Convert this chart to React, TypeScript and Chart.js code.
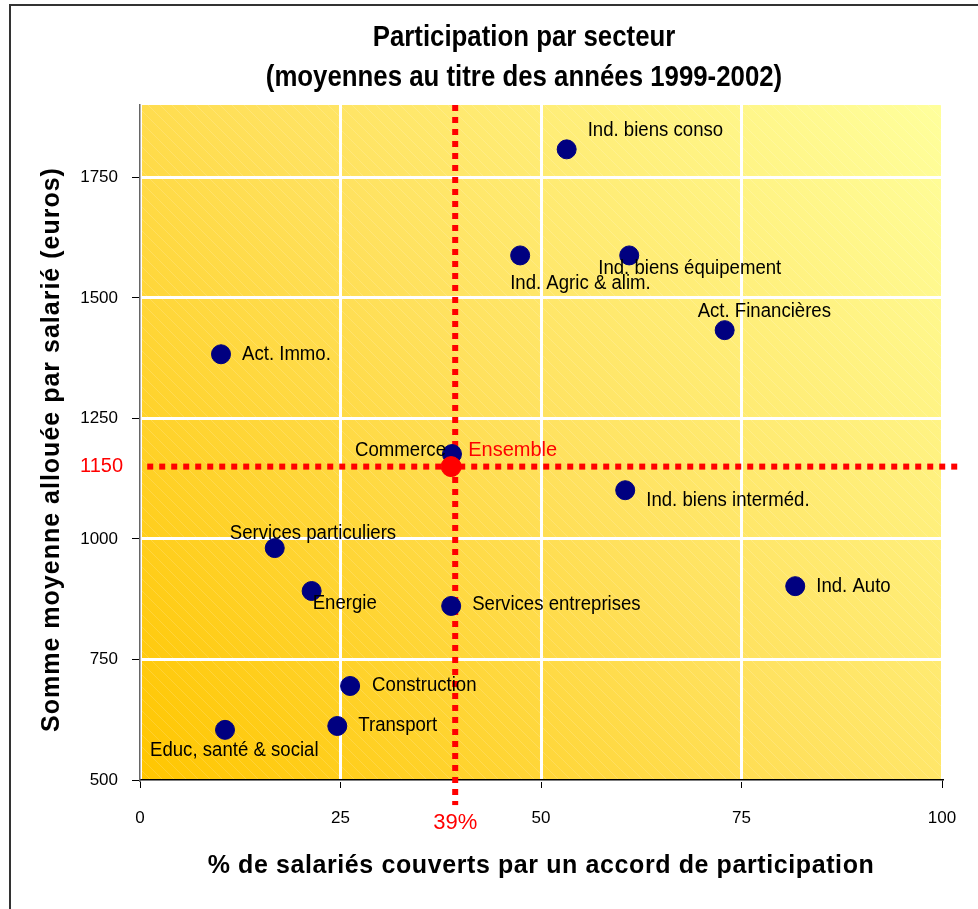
import React, { useEffect, useRef } from "react";
import { Chart, registerables } from "chart.js";

Chart.register(...registerables);

const sectors = [
  "Ind. biens conso",
  "Ind. Agric & alim.",
  "Ind. biens équipement",
  "Act. Financières",
  "Act. Immo.",
  "Commerce",
  "Ind. biens interméd.",
  "Services particuliers",
  "Energie",
  "Services entreprises",
  "Ind. Auto",
  "Construction",
  "Transport",
  "Educ, santé & social",
];
const coverage = [53.2, 47.4, 61.0, 72.9, 10.1, 38.9, 60.5, 16.8, 21.4, 38.8, 81.7, 26.2, 24.6, 10.6];
const amount = [1808, 1588, 1588, 1433, 1383, 1176, 1101, 981, 892, 861, 902, 695, 612, 604];

const overallLabel = "Ensemble";
const overallCoverage = 38.8;
const overallAmount = 1150;
const refCoverage = 39.3;
const refAmountLabel = "1150";
const refCoverageLabel = "39%";

const xTicks = [0, 25, 50, 75, 100];
const yTicks = [500, 750, 1000, 1250, 1500, 1750];

const titleLines = ["Participation par secteur", "(moyennes au titre des années 1999-2002)"];
const xTitle = "% de salariés couverts par un accord de participation";
const yTitle = "Somme moyenne allouée par salarié (euros)";

// label placement relative to point (px): [dx, dy, align]
const labelOffsets: [number, number, CanvasTextAlign][] = [
  [21, -19, "left"],
  [-10, 28, "left"],
  [-31, 13, "left"],
  [-27, -19, "left"],
  [21, 0, "left"],
  [-6, -4, "right"],
  [21, 10, "left"],
  [-45, -15, "left"],
  [1, 12, "left"],
  [21, -1, "left"],
  [21, 0, "left"],
  [22, 0, "left"],
  [21, -1, "left"],
  [-75, 21, "left"],
];
const overallOffset: [number, number] = [17, -16];

const SANS = '"Liberation Sans", Arial, sans-serif';
const LABEL_SCALE = 0.93;

function narrowText(ctx: any, text: string, x: number, y: number, align: CanvasTextAlign, font: string, sx = LABEL_SCALE) {
  ctx.save();
  ctx.font = font;
  ctx.textAlign = align;
  ctx.translate(x, y);
  ctx.scale(sx, 1);
  ctx.fillText(text, 0, 0);
  ctx.restore();
}

export default function App() {
  const ref = useRef<HTMLCanvasElement>(null);
  useEffect(() => {
    document.body.style.margin = "0";
    const canvas = ref.current!;
    const bgPlugin = {
      id: "bg",
      beforeDraw(chart: any) {
        const { ctx, chartArea: a } = chart;
        ctx.save();
        ctx.fillStyle = "#fff";
        ctx.fillRect(0, 0, chart.width, chart.height);
        const g = ctx.createLinearGradient(a.left, a.bottom, a.right, a.top);
        g.addColorStop(0, "#FFC600");
        g.addColorStop(0.5, "#FFE15E");
        g.addColorStop(1, "#FFFF9C");
        ctx.fillStyle = g;
        ctx.fillRect(a.left, a.top, a.right - a.left, a.bottom - a.top);
        ctx.beginPath();
        ctx.rect(a.left, a.top, a.right - a.left, a.bottom - a.top);
        ctx.clip();
        ctx.strokeStyle = "rgba(255,255,255,0.16)";
        ctx.lineWidth = 1;
        for (let k = -1000; k < 1000; k += 12) {
          ctx.beginPath();
          ctx.moveTo(a.left + k, a.top);
          ctx.lineTo(a.left + k + (a.bottom - a.top), a.bottom);
          ctx.stroke();
        }
        ctx.restore();
        // frame
        ctx.save();
        ctx.strokeStyle = "#333";
        ctx.lineWidth = 2;
        ctx.beginPath();
        ctx.moveTo(10, chart.height);
        ctx.lineTo(10, 5);
        ctx.lineTo(chart.width, 5);
        ctx.stroke();
        // title
        ctx.fillStyle = "#000";
        ctx.textBaseline = "alphabetic";
        narrowText(ctx, titleLines[0], 524, 46, "center", `bold 29px ${SANS}`, 0.89);
        narrowText(ctx, titleLines[1], 524, 86, "center", `bold 29px ${SANS}`, 0.89);
        ctx.restore();
      },
      afterDatasetsDraw(chart: any) {
        const { ctx } = chart;
        const xs = chart.scales.x;
        const ys = chart.scales.y;
        ctx.save();
        ctx.textBaseline = "middle";
        ctx.fillStyle = "#000";
        const lf = `20px ${SANS}`;
        sectors.forEach((s, i) => {
          const px = xs.getPixelForValue(coverage[i]);
          const py = ys.getPixelForValue(amount[i]);
          const [dx, dy, al] = labelOffsets[i];
          narrowText(ctx, s, px + dx, py + dy, al, lf);
        });
        ctx.fillStyle = "#FF0000";
        narrowText(
          ctx,
          overallLabel,
          xs.getPixelForValue(overallCoverage) + overallOffset[0],
          ys.getPixelForValue(overallAmount) + overallOffset[1],
          "left",
          lf,
          1
        );
        ctx.font = `20px ${SANS}`;
        ctx.textAlign = "right";
        ctx.fillText(refAmountLabel, xs.left - 17, ys.getPixelForValue(overallAmount));
        narrowText(ctx, refCoverageLabel, xs.getPixelForValue(refCoverage), ys.bottom + 43, "center", `22px ${SANS}`, 1);
        // axis titles
        ctx.fillStyle = "#000";
        ctx.font = `bold 25px ${SANS}`;
        ctx.textAlign = "center";
        (ctx as any).letterSpacing = "0.6px";
        ctx.fillText(xTitle, (xs.left + xs.right) / 2, 866);
        ctx.translate(52, (ys.top + ys.bottom) / 2 + 7);
        ctx.rotate(-Math.PI / 2);
        (ctx as any).letterSpacing = "1px";
        ctx.fillText(yTitle, 0, 0);
        ctx.restore();
      },
    };

    const chart = new Chart(canvas, {
      type: "scatter",
      data: {
        datasets: [
          {
            type: "line",
            data: [
              { x: 0.9, y: overallAmount },
              { x: 102, y: overallAmount },
            ],
            borderColor: "#FF0000",
            borderWidth: 6,
            borderDash: [6, 6],
            pointRadius: 0,
            clip: false,
            order: 3,
          } as any,
          {
            type: "line",
            data: [
              { x: refCoverage, y: 1900 },
              { x: refCoverage, y: 448 },
            ],
            borderColor: "#FF0000",
            borderWidth: 6,
            borderDash: [6, 6],
            pointRadius: 0,
            clip: false,
            order: 3,
          } as any,
          {
            data: coverage.map((c, i) => ({ x: c, y: amount[i] })),
            backgroundColor: "#000080",
            borderColor: "#000080",
            pointRadius: 9.5,
            order: 2,
          },
          {
            data: [{ x: overallCoverage, y: overallAmount }],
            backgroundColor: "#FF0000",
            borderColor: "#FF0000",
            pointRadius: 10,
            order: 1,
          },
        ],
      },
      options: {
        animation: false,
        responsive: false,
        layout: { padding: { left: 0, right: 36, top: 105, bottom: 0 } },
        plugins: { legend: { display: false }, tooltip: { enabled: false }, title: { display: false } },
        scales: {
          x: {
            type: "linear",
            min: 0,
            max: 100,
            afterBuildTicks: (s: any) => {
              s.ticks = xTicks.map((v) => ({ value: v }));
            },
            afterFit: (s: any) => {
              s.height = 909 - 780;
            },
            grid: { color: "#fff", lineWidth: 3, tickColor: "#000", tickWidth: 1, tickLength: 8 },
            border: { color: "#000", width: 1.5 },
            ticks: { color: "#000", font: { family: SANS, size: 17 }, padding: 20, callback: (v: any) => String(v) },
          },
          y: {
            type: "linear",
            min: 500,
            max: 1900,
            afterBuildTicks: (s: any) => {
              s.ticks = yTicks.map((v) => ({ value: v }));
            },
            afterFit: (s: any) => {
              s.width = 140;
            },
            grid: { color: "#fff", lineWidth: 3, tickColor: "#000", tickWidth: 1, tickLength: 8 },
            border: { color: "#666", width: 1.5 },
            ticks: { color: "#000", font: { family: SANS, size: 17 }, padding: 14, callback: (v: any) => String(v) },
          },
        },
      },
      plugins: [bgPlugin],
    } as any);
    return () => chart.destroy();
  }, []);
  return (
    <div style={{ position: "absolute", left: 0, top: 0, width: 978, height: 909 }}>
      <canvas ref={ref} width={978} height={909} style={{ width: 978, height: 909 }} />
    </div>
  );
}
